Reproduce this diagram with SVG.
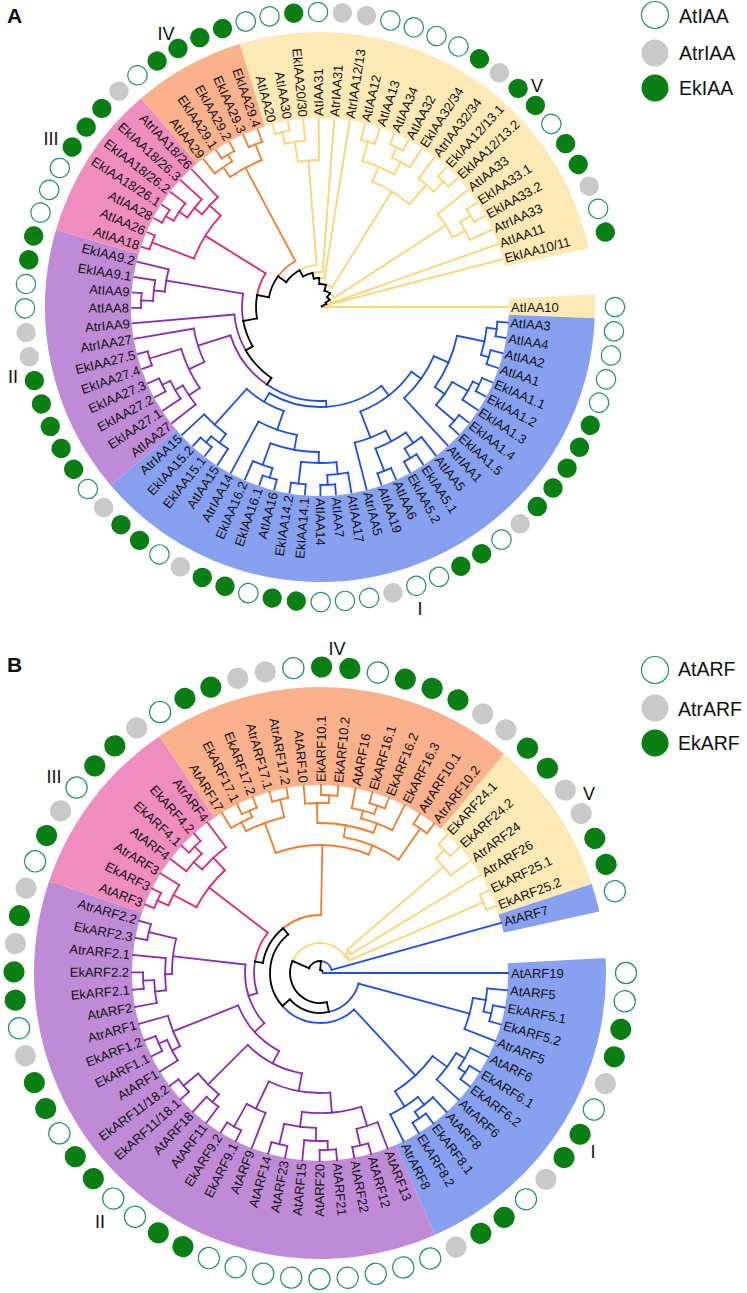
<svg xmlns="http://www.w3.org/2000/svg" width="747" height="1293" viewBox="0 0 747 1293">
<style>
text{font-family:"Liberation Sans",Arial,sans-serif;fill:#111}
.lv text{font-size:13px;dominant-baseline:central}
.f{text-anchor:end}
.w{fill:#fff;stroke:#1f9068;stroke-width:1.2}
.g{fill:#c9c9c9}
.k{fill:#0a7f14}
.sa circle{fill:none;stroke-width:86}
.sb circle{fill:none;stroke-width:98}
.br{fill:none;stroke-width:1.8;stroke-linecap:square}
.bk{stroke:#000}
.yl{stroke:#fdd56e}
.bl{stroke:#1d4fe6}
.pu{stroke:#8b2bb5}
.pk{stroke:#e0287c}
.or{stroke:#f77b2a}
.rn{font-size:18px;text-anchor:middle}
.lg{font-size:19.5px;dominant-baseline:central}
.pl{font-size:21px;font-weight:bold}
</style>
<rect width="747" height="1293" fill="#fff"/>
<text class="pl" x="7" y="23">A</text>
<text class="pl" x="7" y="672">B</text>
<g id="legendA">
<circle class="w" cx="655" cy="15" r="13.5"/><text class="lg" x="679" y="16">AtIAA</text>
<circle class="g" cx="655" cy="53" r="13.5"/><text class="lg" x="679" y="53">AtrIAA</text>
<circle class="k" cx="655" cy="88" r="13.5"/><text class="lg" x="679" y="88">EkIAA</text>
</g>
<g id="legendB">
<circle class="w" cx="655" cy="670" r="13.5"/><text class="lg" x="678" y="669">AtARF</text>
<circle class="g" cx="655" cy="708" r="13.5"/><text class="lg" x="678" y="709">AtrARF</text>
<circle class="k" cx="655" cy="743" r="13.5"/><text class="lg" x="678" y="743">EkARF</text>
</g>
<g id="groupLabels">
<text class="rn" x="166" y="40">IV</text><text class="rn" x="51" y="145">III</text><text class="rn" x="13" y="383">II</text><text class="rn" x="420" y="615">I</text><text class="rn" x="537" y="92">V</text>
<text class="rn" x="337" y="655">IV</text><text class="rn" x="54" y="783">III</text><text class="rn" x="100" y="1228">II</text><text class="rn" x="593" y="1158">I</text><text class="rn" x="589" y="800">V</text>
</g>
<g id="treeA" transform="translate(320,307)">
<g id="sectorsA" class="sa">
<circle r="232" pathLength="360" stroke="#fde9b5" stroke-dasharray="94.65 360" transform="rotate(253.05)"/>
<circle r="232" pathLength="360" stroke="#fde9b5" stroke-dasharray="4.97 360" transform="rotate(357.4)"/>
<circle r="232" pathLength="360" stroke="#87a1f0" stroke-dasharray="137.17 360" transform="rotate(2.37)"/>
<circle r="232" pathLength="360" stroke="#bf8bd6" stroke-dasharray="56.76 360" transform="rotate(139.53)"/>
<circle r="232" pathLength="360" stroke="#f08dbf" stroke-dasharray="33.11 360" transform="rotate(196.29)"/>
<circle r="232" pathLength="360" stroke="#fbb18b" stroke-dasharray="23.65 360" transform="rotate(229.4)"/>
</g>
<g id="connectorsA">
<g class="br yl">
<circle r="2" pathLength="360" stroke-dasharray="12.85 360" transform="rotate(347.15)"/>
<line x1="2" x2="188"/>
<circle r="7" pathLength="360" stroke-dasharray="10.99 360" transform="rotate(334.3)"/>
<line x1="7" x2="188" transform="rotate(345.29)"/>
<circle r="12" pathLength="360" stroke-dasharray="17.26 360" transform="rotate(323.3)"/>
<line x1="12" x2="188" transform="rotate(340.56)"/>
<circle r="17" pathLength="360" stroke-dasharray="20.93 360" transform="rotate(306.03)"/>
<line x1="17" x2="150" transform="rotate(326.96)"/>
<circle r="23" pathLength="360" stroke-dasharray="16.74 360" transform="rotate(285.09)"/>
<line x1="23" x2="136" transform="rotate(301.83)"/>
<circle r="29" pathLength="360" stroke-dasharray="10.72 360" transform="rotate(268.35)"/>
<line x1="29" x2="188" transform="rotate(279.07)"/>
<circle r="35" pathLength="360" stroke-dasharray="16.72 360" transform="rotate(257.62)"/>
<line x1="35" x2="188" transform="rotate(274.34)"/>
<circle r="42" pathLength="360" stroke-dasharray="24.58 360" transform="rotate(240.89)"/>
<line x1="42" x2="147" transform="rotate(265.47)"/>
<circle r="179" pathLength="360" stroke-dasharray="4.73 360" transform="rotate(255.42)"/>
<line x1="179" x2="188" transform="rotate(255.42)"/><line x1="179" x2="188" transform="rotate(260.15)"/>
<circle r="167" pathLength="360" stroke-dasharray="7.09 360" transform="rotate(257.79)"/>
<line x1="167" x2="179" transform="rotate(257.79)"/><line x1="167" x2="188" transform="rotate(264.88)"/>
<circle r="147" pathLength="360" stroke-dasharray="8.28 360" transform="rotate(261.33)"/>
<line x1="147" x2="167" transform="rotate(261.33)"/><line x1="147" x2="188" transform="rotate(269.61)"/>
<circle r="172" pathLength="360" stroke-dasharray="4.73 360" transform="rotate(283.8)"/>
<line x1="172" x2="188" transform="rotate(283.8)"/><line x1="172" x2="188" transform="rotate(288.53)"/>
<circle r="177" pathLength="360" stroke-dasharray="4.73 360" transform="rotate(293.26)"/>
<line x1="177" x2="188" transform="rotate(293.26)"/><line x1="177" x2="188" transform="rotate(297.99)"/>
<circle r="166" pathLength="360" stroke-dasharray="7.09 360" transform="rotate(295.63)"/>
<line x1="166" x2="177" transform="rotate(295.63)"/><line x1="166" x2="188" transform="rotate(302.72)"/>
<circle r="152" pathLength="360" stroke-dasharray="13 360" transform="rotate(286.17)"/>
<line x1="152" x2="172" transform="rotate(286.17)"/><line x1="152" x2="166" transform="rotate(299.17)"/>
<circle r="176" pathLength="360" stroke-dasharray="4.73 360" transform="rotate(312.18)"/>
<line x1="176" x2="188" transform="rotate(312.18)"/><line x1="176" x2="188" transform="rotate(316.91)"/>
<circle r="162" pathLength="360" stroke-dasharray="7.1 360" transform="rotate(307.45)"/>
<line x1="162" x2="188" transform="rotate(307.45)"/><line x1="162" x2="176" transform="rotate(314.55)"/>
<circle r="136" pathLength="360" stroke-dasharray="18.33 360" transform="rotate(292.67)"/>
<line x1="136" x2="152" transform="rotate(292.67)"/><line x1="136" x2="162" transform="rotate(311)"/>
<circle r="176" pathLength="360" stroke-dasharray="4.73 360" transform="rotate(326.37)"/>
<line x1="176" x2="188" transform="rotate(326.37)"/><line x1="176" x2="188" transform="rotate(331.1)"/>
<circle r="164" pathLength="360" stroke-dasharray="7.09 360" transform="rotate(328.74)"/>
<line x1="164" x2="176" transform="rotate(328.74)"/><line x1="164" x2="188" transform="rotate(335.83)"/>
<circle r="150" pathLength="360" stroke-dasharray="10.64 360" transform="rotate(321.64)"/>
<line x1="150" x2="188" transform="rotate(321.64)"/><line x1="150" x2="164" transform="rotate(332.28)"/>
</g>
<g class="br or">
<circle r="52" pathLength="360" stroke-dasharray="25.52 360" transform="rotate(216.3)"/>
<line x1="52" x2="158" transform="rotate(241.82)"/>
<circle r="178" pathLength="360" stroke-dasharray="4.73 360" transform="rotate(236.5)"/>
<line x1="178" x2="188" transform="rotate(236.5)"/><line x1="178" x2="188" transform="rotate(241.23)"/>
<circle r="170" pathLength="360" stroke-dasharray="7.1 360" transform="rotate(231.77)"/>
<line x1="170" x2="188" transform="rotate(231.77)"/><line x1="170" x2="178" transform="rotate(238.87)"/>
<circle r="175" pathLength="360" stroke-dasharray="4.73 360" transform="rotate(245.96)"/>
<line x1="175" x2="188" transform="rotate(245.96)"/><line x1="175" x2="188" transform="rotate(250.69)"/>
<circle r="158" pathLength="360" stroke-dasharray="13.01 360" transform="rotate(235.32)"/>
<line x1="158" x2="170" transform="rotate(235.32)"/><line x1="158" x2="175" transform="rotate(248.33)"/>
</g>
<g class="br pk">
<circle r="64" pathLength="360" stroke-dasharray="21.02 360" transform="rotate(190.78)"/>
<line x1="64" x2="135" transform="rotate(211.8)"/>
<circle r="180" pathLength="360" stroke-dasharray="4.73 360" transform="rotate(198.66)"/>
<line x1="180" x2="188" transform="rotate(198.66)"/><line x1="180" x2="188" transform="rotate(203.39)"/>
<circle r="179" pathLength="360" stroke-dasharray="4.73 360" transform="rotate(208.12)"/>
<line x1="179" x2="188" transform="rotate(208.12)"/><line x1="179" x2="188" transform="rotate(212.85)"/>
<circle r="170" pathLength="360" stroke-dasharray="7.09 360" transform="rotate(210.49)"/>
<line x1="170" x2="179" transform="rotate(210.49)"/><line x1="170" x2="188" transform="rotate(217.58)"/>
<circle r="160" pathLength="360" stroke-dasharray="8.28 360" transform="rotate(214.03)"/>
<line x1="160" x2="170" transform="rotate(214.03)"/><line x1="160" x2="188" transform="rotate(222.31)"/>
<circle r="150" pathLength="360" stroke-dasharray="8.87 360" transform="rotate(218.17)"/>
<line x1="150" x2="160" transform="rotate(218.17)"/><line x1="150" x2="188" transform="rotate(227.04)"/>
<circle r="135" pathLength="360" stroke-dasharray="21.57 360" transform="rotate(201.03)"/>
<line x1="135" x2="180" transform="rotate(201.03)"/><line x1="135" x2="150" transform="rotate(222.6)"/>
</g>
<g class="br pu">
<circle r="78" pathLength="360" stroke-dasharray="20.05 360" transform="rotate(169.75)"/>
<line x1="78" x2="156" transform="rotate(189.8)"/>
<circle r="86" pathLength="360" stroke-dasharray="25.31 360" transform="rotate(149.7)"/>
<line x1="86" x2="188" transform="rotate(175.01)"/>
<circle r="94" pathLength="360" stroke-dasharray="38.06 360" transform="rotate(124.38)"/>
<line x1="94" x2="128" transform="rotate(162.44)"/>
<circle r="179" pathLength="360" stroke-dasharray="4.73 360" transform="rotate(179.74)"/>
<line x1="179" x2="188" transform="rotate(179.74)"/><line x1="179" x2="188" transform="rotate(184.47)"/>
<circle r="167" pathLength="360" stroke-dasharray="7.1 360" transform="rotate(182.1)"/>
<line x1="167" x2="179" transform="rotate(182.1)"/><line x1="167" x2="188" transform="rotate(189.2)"/>
<circle r="156" pathLength="360" stroke-dasharray="8.28 360" transform="rotate(185.65)"/>
<line x1="156" x2="167" transform="rotate(185.65)"/><line x1="156" x2="188" transform="rotate(193.93)"/>
<circle r="178" pathLength="360" stroke-dasharray="4.73 360" transform="rotate(160.82)"/>
<line x1="178" x2="188" transform="rotate(160.82)"/><line x1="178" x2="188" transform="rotate(165.55)"/>
<circle r="176" pathLength="360" stroke-dasharray="4.73 360" transform="rotate(151.36)"/>
<line x1="176" x2="188" transform="rotate(151.36)"/><line x1="176" x2="188" transform="rotate(156.09)"/>
<circle r="167" pathLength="360" stroke-dasharray="7.1 360" transform="rotate(146.63)"/>
<line x1="167" x2="188" transform="rotate(146.63)"/><line x1="167" x2="176" transform="rotate(153.73)"/>
<circle r="158" pathLength="360" stroke-dasharray="8.28 360" transform="rotate(141.9)"/>
<line x1="158" x2="188" transform="rotate(141.9)"/><line x1="158" x2="167" transform="rotate(150.18)"/>
<circle r="145" pathLength="360" stroke-dasharray="17.15 360" transform="rotate(146.04)"/>
<line x1="145" x2="158" transform="rotate(146.04)"/><line x1="145" x2="178" transform="rotate(163.19)"/>
<circle r="128" pathLength="360" stroke-dasharray="15.68 360" transform="rotate(154.6)"/>
<line x1="128" x2="145" transform="rotate(154.6)"/><line x1="128" x2="188" transform="rotate(170.28)"/>
</g>
<g class="br bl">
<circle r="94" pathLength="360" stroke-dasharray="38.06 360" transform="rotate(86.32)"/>
<line x1="94" x2="100" transform="rotate(86.32)"/>
<circle r="178" pathLength="360" stroke-dasharray="4.73 360" transform="rotate(4.73)"/>
<line x1="178" x2="188" transform="rotate(4.73)"/><line x1="178" x2="188" transform="rotate(9.46)"/>
<circle r="176" pathLength="360" stroke-dasharray="4.73 360" transform="rotate(14.19)"/>
<line x1="176" x2="188" transform="rotate(14.19)"/><line x1="176" x2="188" transform="rotate(18.92)"/>
<circle r="168" pathLength="360" stroke-dasharray="9.46 360" transform="rotate(7.1)"/>
<line x1="168" x2="178" transform="rotate(7.1)"/><line x1="168" x2="176" transform="rotate(16.56)"/>
<circle r="177" pathLength="360" stroke-dasharray="4.73 360" transform="rotate(23.65)"/>
<line x1="177" x2="188" transform="rotate(23.65)"/><line x1="177" x2="188" transform="rotate(28.38)"/>
<circle r="170" pathLength="360" stroke-dasharray="7.09 360" transform="rotate(26.02)"/>
<line x1="170" x2="177" transform="rotate(26.02)"/><line x1="170" x2="188" transform="rotate(33.11)"/>
<circle r="176" pathLength="360" stroke-dasharray="4.73 360" transform="rotate(37.84)"/>
<line x1="176" x2="188" transform="rotate(37.84)"/><line x1="176" x2="188" transform="rotate(42.57)"/>
<circle r="152" pathLength="360" stroke-dasharray="10.65 360" transform="rotate(29.56)"/>
<line x1="152" x2="170" transform="rotate(29.56)"/><line x1="152" x2="176" transform="rotate(40.21)"/>
<circle r="140" pathLength="360" stroke-dasharray="23.05 360" transform="rotate(11.83)"/>
<line x1="140" x2="168" transform="rotate(11.83)"/><line x1="140" x2="152" transform="rotate(34.88)"/>
<circle r="124" pathLength="360" stroke-dasharray="23.94 360" transform="rotate(23.36)"/>
<line x1="124" x2="140" transform="rotate(23.36)"/><line x1="124" x2="188" transform="rotate(47.3)"/>
<circle r="176" pathLength="360" stroke-dasharray="4.73 360" transform="rotate(56.76)"/>
<line x1="176" x2="188" transform="rotate(56.76)"/><line x1="176" x2="188" transform="rotate(61.49)"/>
<circle r="165" pathLength="360" stroke-dasharray="7.1 360" transform="rotate(52.03)"/>
<line x1="165" x2="188" transform="rotate(52.03)"/><line x1="165" x2="176" transform="rotate(59.13)"/>
<circle r="176" pathLength="360" stroke-dasharray="4.73 360" transform="rotate(66.22)"/>
<line x1="176" x2="188" transform="rotate(66.22)"/><line x1="176" x2="188" transform="rotate(70.95)"/>
<circle r="152" pathLength="360" stroke-dasharray="13.01 360" transform="rotate(55.58)"/>
<line x1="152" x2="165" transform="rotate(55.58)"/><line x1="152" x2="176" transform="rotate(68.59)"/>
<circle r="140" pathLength="360" stroke-dasharray="13.6 360" transform="rotate(62.08)"/>
<line x1="140" x2="152" transform="rotate(62.08)"/><line x1="140" x2="188" transform="rotate(75.68)"/>
<circle r="112" pathLength="360" stroke-dasharray="33.55 360" transform="rotate(35.33)"/>
<line x1="112" x2="124" transform="rotate(35.33)"/><line x1="112" x2="140" transform="rotate(68.88)"/>
<circle r="178" pathLength="360" stroke-dasharray="4.73 360" transform="rotate(85.14)"/>
<line x1="178" x2="188" transform="rotate(85.14)"/><line x1="178" x2="188" transform="rotate(89.87)"/>
<circle r="168" pathLength="360" stroke-dasharray="7.1 360" transform="rotate(80.41)"/>
<line x1="168" x2="188" transform="rotate(80.41)"/><line x1="168" x2="178" transform="rotate(87.51)"/>
<circle r="178" pathLength="360" stroke-dasharray="4.73 360" transform="rotate(94.6)"/>
<line x1="178" x2="188" transform="rotate(94.6)"/><line x1="178" x2="188" transform="rotate(99.33)"/>
<circle r="156" pathLength="360" stroke-dasharray="13.01 360" transform="rotate(83.96)"/>
<line x1="156" x2="168" transform="rotate(83.96)"/><line x1="156" x2="178" transform="rotate(96.97)"/>
<circle r="178" pathLength="360" stroke-dasharray="4.73 360" transform="rotate(104.06)"/>
<line x1="178" x2="188" transform="rotate(104.06)"/><line x1="178" x2="188" transform="rotate(108.79)"/>
<circle r="168" pathLength="360" stroke-dasharray="7.09 360" transform="rotate(106.43)"/>
<line x1="168" x2="178" transform="rotate(106.43)"/><line x1="168" x2="188" transform="rotate(113.52)"/>
<circle r="145" pathLength="360" stroke-dasharray="19.51 360" transform="rotate(90.46)"/>
<line x1="145" x2="156" transform="rotate(90.46)"/><line x1="145" x2="168" transform="rotate(109.97)"/>
<circle r="130" pathLength="360" stroke-dasharray="18.03 360" transform="rotate(100.22)"/>
<line x1="130" x2="145" transform="rotate(100.22)"/><line x1="130" x2="188" transform="rotate(118.25)"/>
<circle r="177" pathLength="360" stroke-dasharray="4.73 360" transform="rotate(127.71)"/>
<line x1="177" x2="188" transform="rotate(127.71)"/><line x1="177" x2="188" transform="rotate(132.44)"/>
<circle r="169" pathLength="360" stroke-dasharray="7.1 360" transform="rotate(122.98)"/>
<line x1="169" x2="188" transform="rotate(122.98)"/><line x1="169" x2="177" transform="rotate(130.08)"/>
<circle r="158" pathLength="360" stroke-dasharray="10.64 360" transform="rotate(126.53)"/>
<line x1="158" x2="169" transform="rotate(126.53)"/><line x1="158" x2="188" transform="rotate(137.17)"/>
<circle r="110" pathLength="360" stroke-dasharray="22.62 360" transform="rotate(109.23)"/>
<line x1="110" x2="130" transform="rotate(109.23)"/><line x1="110" x2="158" transform="rotate(131.85)"/>
<circle r="100" pathLength="360" stroke-dasharray="68.44 360" transform="rotate(52.1)"/>
<line x1="100" x2="112" transform="rotate(52.1)"/><line x1="100" x2="110" transform="rotate(120.54)"/>
</g>
<g class="br bk">
<circle r="2" pathLength="360" stroke-dasharray="12.85 360" transform="rotate(334.3)"/>
<circle r="7" pathLength="360" stroke-dasharray="11 360" transform="rotate(323.3)"/>
<circle r="12" pathLength="360" stroke-dasharray="17.27 360" transform="rotate(306.03)"/>
<circle r="17" pathLength="360" stroke-dasharray="20.94 360" transform="rotate(285.09)"/>
<circle r="23" pathLength="360" stroke-dasharray="16.74 360" transform="rotate(268.35)"/>
<circle r="29" pathLength="360" stroke-dasharray="10.73 360" transform="rotate(257.62)"/>
<circle r="35" pathLength="360" stroke-dasharray="16.73 360" transform="rotate(240.89)"/>
<circle r="42" pathLength="360" stroke-dasharray="24.59 360" transform="rotate(216.3)"/>
<circle r="52" pathLength="360" stroke-dasharray="25.52 360" transform="rotate(190.78)"/>
<circle r="64" pathLength="360" stroke-dasharray="21.03 360" transform="rotate(169.75)"/>
<circle r="78" pathLength="360" stroke-dasharray="20.05 360" transform="rotate(149.7)"/>
<circle r="86" pathLength="360" stroke-dasharray="25.32 360" transform="rotate(124.38)"/>
<line x1="2" x2="7" transform="rotate(334.3)"/>
<line x1="7" x2="12" transform="rotate(323.3)"/>
<line x1="12" x2="17" transform="rotate(306.03)"/>
<line x1="17" x2="23" transform="rotate(285.09)"/>
<line x1="23" x2="29" transform="rotate(268.35)"/>
<line x1="29" x2="35" transform="rotate(257.62)"/>
<line x1="35" x2="42" transform="rotate(240.89)"/>
<line x1="42" x2="52" transform="rotate(216.3)"/>
<line x1="52" x2="64" transform="rotate(190.78)"/>
<line x1="64" x2="78" transform="rotate(169.75)"/>
<line x1="78" x2="86" transform="rotate(149.7)"/>
<line x1="86" x2="94" transform="rotate(124.38)"/>
</g>
</g>
<g id="leavesA" class="lv">
<g id="a0"><text x="191">AtIAA10</text><circle class="w" cx="295" r="9.7"/></g>
<g id="a1" transform="rotate(4.73)"><text x="191">AtIAA3</text><circle class="w" cx="295" r="9.7"/></g>
<g id="a2" transform="rotate(9.46)"><text x="191">AtIAA4</text><circle class="w" cx="295" r="9.7"/></g>
<g id="a3" transform="rotate(14.19)"><text x="191">AtIAA2</text><circle class="w" cx="295" r="9.7"/></g>
<g id="a4" transform="rotate(18.92)"><text x="191">AtIAA1</text><circle class="w" cx="295" r="9.7"/></g>
<g id="a5" transform="rotate(23.65)"><text x="191">EkIAA1.1</text><circle class="k" cx="295" r="9.7"/></g>
<g id="a6" transform="rotate(28.38)"><text x="191">EkIAA1.2</text><circle class="k" cx="295" r="9.7"/></g>
<g id="a7" transform="rotate(33.11)"><text x="191">EkIAA1.3</text><circle class="k" cx="295" r="9.7"/></g>
<g id="a8" transform="rotate(37.84)"><text x="191">EkIAA1.4</text><circle class="k" cx="295" r="9.7"/></g>
<g id="a9" transform="rotate(42.57)"><text x="191">EkIAA1.5</text><circle class="k" cx="295" r="9.7"/></g>
<g id="a10" transform="rotate(47.3)"><text x="191">AtrIAA1</text><circle class="g" cx="295" r="9.7"/></g>
<g id="a11" transform="rotate(52.03)"><text x="191">AtIAA5</text><circle class="w" cx="295" r="9.7"/></g>
<g id="a12" transform="rotate(56.76)"><text x="191">EkIAA5.1</text><circle class="k" cx="295" r="9.7"/></g>
<g id="a13" transform="rotate(61.49)"><text x="191">EkIAA5.2</text><circle class="k" cx="295" r="9.7"/></g>
<g id="a14" transform="rotate(66.22)"><text x="191">AtIAA6</text><circle class="w" cx="295" r="9.7"/></g>
<g id="a15" transform="rotate(70.95)"><text x="191">AtIAA19</text><circle class="w" cx="295" r="9.7"/></g>
<g id="a16" transform="rotate(75.68)"><text x="191">AtrIAA5</text><circle class="g" cx="295" r="9.7"/></g>
<g id="a17" transform="rotate(80.41)"><text x="191">AtIAA17</text><circle class="w" cx="295" r="9.7"/></g>
<g id="a18" transform="rotate(85.14)"><text x="191">AtIAA7</text><circle class="w" cx="295" r="9.7"/></g>
<g id="a19" transform="rotate(89.87)"><text x="191">AtIAA14</text><circle class="w" cx="295" r="9.7"/></g>
<g id="a20" transform="rotate(-85.4)"><text class="f" x="-191">EkIAA14.1</text><circle class="k" cx="-295" r="9.7"/></g>
<g id="a21" transform="rotate(-80.67)"><text class="f" x="-191">EkIAA14.2</text><circle class="k" cx="-295" r="9.7"/></g>
<g id="a22" transform="rotate(-75.94)"><text class="f" x="-191">AtIAA16</text><circle class="w" cx="-295" r="9.7"/></g>
<g id="a23" transform="rotate(-71.21)"><text class="f" x="-191">EkIAA16.1</text><circle class="k" cx="-295" r="9.7"/></g>
<g id="a24" transform="rotate(-66.48)"><text class="f" x="-191">EkIAA16.2</text><circle class="k" cx="-295" r="9.7"/></g>
<g id="a25" transform="rotate(-61.75)"><text class="f" x="-191">AtrIAA14</text><circle class="g" cx="-295" r="9.7"/></g>
<g id="a26" transform="rotate(-57.02)"><text class="f" x="-191">AtIAA15</text><circle class="w" cx="-295" r="9.7"/></g>
<g id="a27" transform="rotate(-52.29)"><text class="f" x="-191">EkIAA15.1</text><circle class="k" cx="-295" r="9.7"/></g>
<g id="a28" transform="rotate(-47.56)"><text class="f" x="-191">EkIAA15.2</text><circle class="k" cx="-295" r="9.7"/></g>
<g id="a29" transform="rotate(-42.83)"><text class="f" x="-191">AtrIAA15</text><circle class="g" cx="-295" r="9.7"/></g>
<g id="a30" transform="rotate(-38.1)"><text class="f" x="-191">AtIAA27</text><circle class="w" cx="-295" r="9.7"/></g>
<g id="a31" transform="rotate(-33.37)"><text class="f" x="-191">EkIAA27.1</text><circle class="k" cx="-295" r="9.7"/></g>
<g id="a32" transform="rotate(-28.64)"><text class="f" x="-191">EkIAA27.2</text><circle class="k" cx="-295" r="9.7"/></g>
<g id="a33" transform="rotate(-23.91)"><text class="f" x="-191">EkIAA27.3</text><circle class="k" cx="-295" r="9.7"/></g>
<g id="a34" transform="rotate(-19.18)"><text class="f" x="-191">EkIAA27.4</text><circle class="k" cx="-295" r="9.7"/></g>
<g id="a35" transform="rotate(-14.45)"><text class="f" x="-191">EkIAA27.5</text><circle class="k" cx="-295" r="9.7"/></g>
<g id="a36" transform="rotate(-9.72)"><text class="f" x="-191">AtrIAA27</text><circle class="g" cx="-295" r="9.7"/></g>
<g id="a37" transform="rotate(-4.99)"><text class="f" x="-191">AtrIAA9</text><circle class="g" cx="-295" r="9.7"/></g>
<g id="a38" transform="rotate(-0.26)"><text class="f" x="-191">AtIAA8</text><circle class="w" cx="-295" r="9.7"/></g>
<g id="a39" transform="rotate(4.47)"><text class="f" x="-191">AtIAA9</text><circle class="w" cx="-295" r="9.7"/></g>
<g id="a40" transform="rotate(9.2)"><text class="f" x="-191">EkIAA9.1</text><circle class="k" cx="-295" r="9.7"/></g>
<g id="a41" transform="rotate(13.93)"><text class="f" x="-191">EkIAA9.2</text><circle class="k" cx="-295" r="9.7"/></g>
<g id="a42" transform="rotate(18.66)"><text class="f" x="-191">AtIAA18</text><circle class="w" cx="-295" r="9.7"/></g>
<g id="a43" transform="rotate(23.39)"><text class="f" x="-191">AtIAA26</text><circle class="w" cx="-295" r="9.7"/></g>
<g id="a44" transform="rotate(28.12)"><text class="f" x="-191">AtIAA28</text><circle class="w" cx="-295" r="9.7"/></g>
<g id="a45" transform="rotate(32.85)"><text class="f" x="-191">EkIAA18/26.1</text><circle class="k" cx="-295" r="9.7"/></g>
<g id="a46" transform="rotate(37.58)"><text class="f" x="-191">EkIAA18/26.2</text><circle class="k" cx="-295" r="9.7"/></g>
<g id="a47" transform="rotate(42.31)"><text class="f" x="-191">EkIAA18/26.3</text><circle class="k" cx="-295" r="9.7"/></g>
<g id="a48" transform="rotate(47.04)"><text class="f" x="-191">AtrIAA18/26</text><circle class="g" cx="-295" r="9.7"/></g>
<g id="a49" transform="rotate(51.77)"><text class="f" x="-191">AtIAA29</text><circle class="w" cx="-295" r="9.7"/></g>
<g id="a50" transform="rotate(56.5)"><text class="f" x="-191">EkIAA29.1</text><circle class="k" cx="-295" r="9.7"/></g>
<g id="a51" transform="rotate(61.23)"><text class="f" x="-191">EkIAA29.2</text><circle class="k" cx="-295" r="9.7"/></g>
<g id="a52" transform="rotate(65.96)"><text class="f" x="-191">EkIAA29.3</text><circle class="k" cx="-295" r="9.7"/></g>
<g id="a53" transform="rotate(70.69)"><text class="f" x="-191">EkIAA29.4</text><circle class="k" cx="-295" r="9.7"/></g>
<g id="a54" transform="rotate(75.42)"><text class="f" x="-191">AtIAA20</text><circle class="w" cx="-295" r="9.7"/></g>
<g id="a55" transform="rotate(80.15)"><text class="f" x="-191">AtIAA30</text><circle class="w" cx="-295" r="9.7"/></g>
<g id="a56" transform="rotate(84.88)"><text class="f" x="-191">EkIAA20/30</text><circle class="k" cx="-295" r="9.7"/></g>
<g id="a57" transform="rotate(269.61)"><text x="191">AtIAA31</text><circle class="w" cx="295" r="9.7"/></g>
<g id="a58" transform="rotate(274.34)"><text x="191">AtrIAA31</text><circle class="g" cx="295" r="9.7"/></g>
<g id="a59" transform="rotate(279.07)"><text x="191">AtrIAA12/13</text><circle class="g" cx="295" r="9.7"/></g>
<g id="a60" transform="rotate(283.8)"><text x="191">AtIAA12</text><circle class="w" cx="295" r="9.7"/></g>
<g id="a61" transform="rotate(288.53)"><text x="191">AtIAA13</text><circle class="w" cx="295" r="9.7"/></g>
<g id="a62" transform="rotate(293.26)"><text x="191">AtIAA34</text><circle class="w" cx="295" r="9.7"/></g>
<g id="a63" transform="rotate(297.99)"><text x="191">AtIAA32</text><circle class="w" cx="295" r="9.7"/></g>
<g id="a64" transform="rotate(302.72)"><text x="191">EkIAA32/34</text><circle class="k" cx="295" r="9.7"/></g>
<g id="a65" transform="rotate(307.45)"><text x="191">AtrIAA32/34</text><circle class="g" cx="295" r="9.7"/></g>
<g id="a66" transform="rotate(312.18)"><text x="191">EkIAA12/13.1</text><circle class="k" cx="295" r="9.7"/></g>
<g id="a67" transform="rotate(316.91)"><text x="191">EkIAA12/13.2</text><circle class="k" cx="295" r="9.7"/></g>
<g id="a68" transform="rotate(321.64)"><text x="191">AtIAA33</text><circle class="w" cx="295" r="9.7"/></g>
<g id="a69" transform="rotate(326.37)"><text x="191">EkIAA33.1</text><circle class="k" cx="295" r="9.7"/></g>
<g id="a70" transform="rotate(331.1)"><text x="191">EkIAA33.2</text><circle class="k" cx="295" r="9.7"/></g>
<g id="a71" transform="rotate(335.83)"><text x="191">AtrIAA33</text><circle class="g" cx="295" r="9.7"/></g>
<g id="a72" transform="rotate(340.56)"><text x="191">AtIAA11</text><circle class="w" cx="295" r="9.7"/></g>
<g id="a73" transform="rotate(345.29)"><text x="191">EkIAA10/11</text><circle class="k" cx="295" r="9.7"/></g>
</g>
</g>
<g id="treeB" transform="translate(320,973)">
<g id="sectorsB" class="sb">
<circle r="237" pathLength="360" stroke="#87a1f0" stroke-dasharray="69.25 360" transform="rotate(357)"/>
<circle r="237" pathLength="360" stroke="#bf8bd6" stroke-dasharray="132.5 360" transform="rotate(66.25)"/>
<circle r="237" pathLength="360" stroke="#f08dbf" stroke-dasharray="37.1 360" transform="rotate(198.75)"/>
<circle r="237" pathLength="360" stroke="#fbb18b" stroke-dasharray="74.2 360" transform="rotate(235.85)"/>
<circle r="237" pathLength="360" stroke="#fde9b5" stroke-dasharray="31.8 360" transform="rotate(310.05)"/>
<circle r="237" pathLength="360" stroke="#87a1f0" stroke-dasharray="5.75 360" transform="rotate(341.85)"/>
</g>
<g id="connectorsB">
<g class="br yl">
<circle r="30" pathLength="360" stroke-dasharray="126.63 360" transform="rotate(203.63)"/>
<line x1="30" x2="32" transform="rotate(330.26)"/>
<circle r="175" pathLength="360" stroke-dasharray="5.3 360" transform="rotate(312.7)"/>
<line x1="175" x2="188" transform="rotate(312.7)"/><line x1="175" x2="188" transform="rotate(318)"/>
<circle r="163" pathLength="360" stroke-dasharray="7.95 360" transform="rotate(315.35)"/>
<line x1="163" x2="175" transform="rotate(315.35)"/><line x1="163" x2="188" transform="rotate(323.3)"/>
<circle r="178" pathLength="360" stroke-dasharray="5.3 360" transform="rotate(333.9)"/>
<line x1="178" x2="188" transform="rotate(333.9)"/><line x1="178" x2="188" transform="rotate(339.2)"/>
<circle r="36" pathLength="360" stroke-dasharray="9.27 360" transform="rotate(319.33)"/>
<line x1="36" x2="163" transform="rotate(319.33)"/><line x1="36" x2="188" transform="rotate(328.6)"/>
<circle r="32" pathLength="360" stroke-dasharray="12.58 360" transform="rotate(323.97)"/>
<line x1="32" x2="36" transform="rotate(323.97)"/><line x1="32" x2="178" transform="rotate(336.55)"/>
</g>
<g class="br bl">
<circle r="3" pathLength="360" stroke-dasharray="43 360" transform="rotate(317)"/>
<line x1="3" x2="188"/>
<circle r="12" pathLength="360" stroke-dasharray="70.43 360" transform="rotate(274.07)"/>
<line x1="12" x2="188" transform="rotate(344.5)"/>
<circle r="40" pathLength="360" stroke-dasharray="61.76 360" transform="rotate(15.24)"/>
<line x1="40" x2="155" transform="rotate(15.24)"/>
<circle r="50" pathLength="360" stroke-dasharray="91.73 360" transform="rotate(47.04)"/>
<line x1="50" x2="140" transform="rotate(47.04)"/>
<circle r="176" pathLength="360" stroke-dasharray="5.3 360" transform="rotate(10.6)"/>
<line x1="176" x2="188" transform="rotate(10.6)"/><line x1="176" x2="188" transform="rotate(15.9)"/>
<circle r="168" pathLength="360" stroke-dasharray="7.95 360" transform="rotate(5.3)"/>
<line x1="168" x2="188" transform="rotate(5.3)"/><line x1="168" x2="176" transform="rotate(13.25)"/>
<circle r="155" pathLength="360" stroke-dasharray="11.92 360" transform="rotate(9.28)"/>
<line x1="155" x2="168" transform="rotate(9.28)"/><line x1="155" x2="188" transform="rotate(21.2)"/>
<circle r="176" pathLength="360" stroke-dasharray="5.3 360" transform="rotate(31.8)"/>
<line x1="176" x2="188" transform="rotate(31.8)"/><line x1="176" x2="188" transform="rotate(37.1)"/>
<circle r="168" pathLength="360" stroke-dasharray="7.95 360" transform="rotate(26.5)"/>
<line x1="168" x2="188" transform="rotate(26.5)"/><line x1="168" x2="176" transform="rotate(34.45)"/>
<circle r="158" pathLength="360" stroke-dasharray="11.92 360" transform="rotate(30.48)"/>
<line x1="158" x2="168" transform="rotate(30.48)"/><line x1="158" x2="188" transform="rotate(42.4)"/>
<circle r="176" pathLength="360" stroke-dasharray="5.3 360" transform="rotate(53)"/>
<line x1="176" x2="188" transform="rotate(53)"/><line x1="176" x2="188" transform="rotate(58.3)"/>
<circle r="168" pathLength="360" stroke-dasharray="7.95 360" transform="rotate(47.7)"/>
<line x1="168" x2="188" transform="rotate(47.7)"/><line x1="168" x2="176" transform="rotate(55.65)"/>
<circle r="158" pathLength="360" stroke-dasharray="11.92 360" transform="rotate(51.68)"/>
<line x1="158" x2="168" transform="rotate(51.68)"/><line x1="158" x2="188" transform="rotate(63.6)"/>
<circle r="140" pathLength="360" stroke-dasharray="21.2 360" transform="rotate(36.44)"/>
<line x1="140" x2="158" transform="rotate(36.44)"/><line x1="140" x2="158" transform="rotate(57.64)"/>
</g>
<g class="br or">
<circle r="58" pathLength="360" stroke-dasharray="40.55 360" transform="rotate(230.5)"/>
<line x1="58" x2="128" transform="rotate(271.05)"/>
<circle r="177" pathLength="360" stroke-dasharray="5.3 360" transform="rotate(243.8)"/>
<line x1="177" x2="188" transform="rotate(243.8)"/><line x1="177" x2="188" transform="rotate(249.1)"/>
<circle r="170" pathLength="360" stroke-dasharray="7.95 360" transform="rotate(238.5)"/>
<line x1="170" x2="188" transform="rotate(238.5)"/><line x1="170" x2="177" transform="rotate(246.45)"/>
<circle r="178" pathLength="360" stroke-dasharray="5.3 360" transform="rotate(254.4)"/>
<line x1="178" x2="188" transform="rotate(254.4)"/><line x1="178" x2="188" transform="rotate(259.7)"/>
<circle r="160" pathLength="360" stroke-dasharray="14.57 360" transform="rotate(242.48)"/>
<line x1="160" x2="170" transform="rotate(242.48)"/><line x1="160" x2="178" transform="rotate(257.05)"/>
<circle r="178" pathLength="360" stroke-dasharray="5.3 360" transform="rotate(270.3)"/>
<line x1="178" x2="188" transform="rotate(270.3)"/><line x1="178" x2="188" transform="rotate(275.6)"/>
<circle r="170" pathLength="360" stroke-dasharray="7.95 360" transform="rotate(265)"/>
<line x1="170" x2="188" transform="rotate(265)"/><line x1="170" x2="178" transform="rotate(272.95)"/>
<circle r="177" pathLength="360" stroke-dasharray="5.3 360" transform="rotate(286.2)"/>
<line x1="177" x2="188" transform="rotate(286.2)"/><line x1="177" x2="188" transform="rotate(291.5)"/>
<circle r="168" pathLength="360" stroke-dasharray="7.95 360" transform="rotate(280.9)"/>
<line x1="168" x2="188" transform="rotate(280.9)"/><line x1="168" x2="177" transform="rotate(288.85)"/>
<circle r="160" pathLength="360" stroke-dasharray="11.92 360" transform="rotate(284.88)"/>
<line x1="160" x2="168" transform="rotate(284.88)"/><line x1="160" x2="188" transform="rotate(296.8)"/>
<circle r="150" pathLength="360" stroke-dasharray="21.86 360" transform="rotate(268.98)"/>
<line x1="150" x2="170" transform="rotate(268.98)"/><line x1="150" x2="160" transform="rotate(290.84)"/>
<circle r="176" pathLength="360" stroke-dasharray="5.3 360" transform="rotate(302.1)"/>
<line x1="176" x2="188" transform="rotate(302.1)"/><line x1="176" x2="188" transform="rotate(307.4)"/>
<circle r="138" pathLength="360" stroke-dasharray="24.84 360" transform="rotate(279.91)"/>
<line x1="138" x2="150" transform="rotate(279.91)"/><line x1="138" x2="176" transform="rotate(304.75)"/>
<circle r="128" pathLength="360" stroke-dasharray="42.56 360" transform="rotate(249.77)"/>
<line x1="128" x2="160" transform="rotate(249.77)"/><line x1="128" x2="138" transform="rotate(292.33)"/>
</g>
<g class="br pk">
<circle r="66" pathLength="360" stroke-dasharray="27.69 360" transform="rotate(189.95)"/>
<line x1="66" x2="140" transform="rotate(217.64)"/>
<circle r="178" pathLength="360" stroke-dasharray="5.3 360" transform="rotate(201.4)"/>
<line x1="178" x2="188" transform="rotate(201.4)"/><line x1="178" x2="188" transform="rotate(206.7)"/>
<circle r="166" pathLength="360" stroke-dasharray="7.95 360" transform="rotate(204.05)"/>
<line x1="166" x2="178" transform="rotate(204.05)"/><line x1="166" x2="188" transform="rotate(212)"/>
<circle r="178" pathLength="360" stroke-dasharray="5.3 360" transform="rotate(222.6)"/>
<line x1="178" x2="188" transform="rotate(222.6)"/><line x1="178" x2="188" transform="rotate(227.9)"/>
<circle r="168" pathLength="360" stroke-dasharray="7.95 360" transform="rotate(217.3)"/>
<line x1="168" x2="188" transform="rotate(217.3)"/><line x1="168" x2="178" transform="rotate(225.25)"/>
<circle r="157" pathLength="360" stroke-dasharray="11.92 360" transform="rotate(221.28)"/>
<line x1="157" x2="168" transform="rotate(221.28)"/><line x1="157" x2="188" transform="rotate(233.2)"/>
<circle r="140" pathLength="360" stroke-dasharray="19.21 360" transform="rotate(208.03)"/>
<line x1="140" x2="166" transform="rotate(208.03)"/><line x1="140" x2="157" transform="rotate(227.24)"/>
</g>
<g class="br pu">
<circle r="66" pathLength="360" stroke-dasharray="27.7 360" transform="rotate(162.25)"/>
<line x1="66" x2="75" transform="rotate(162.25)"/>
<circle r="176" pathLength="360" stroke-dasharray="5.3 360" transform="rotate(190.8)"/>
<line x1="176" x2="188" transform="rotate(190.8)"/><line x1="176" x2="188" transform="rotate(196.1)"/>
<circle r="177" pathLength="360" stroke-dasharray="5.3 360" transform="rotate(174.9)"/>
<line x1="177" x2="188" transform="rotate(174.9)"/><line x1="177" x2="188" transform="rotate(180.2)"/>
<circle r="166" pathLength="360" stroke-dasharray="7.95 360" transform="rotate(169.6)"/>
<line x1="166" x2="188" transform="rotate(169.6)"/><line x1="166" x2="177" transform="rotate(177.55)"/>
<circle r="155" pathLength="360" stroke-dasharray="11.92 360" transform="rotate(173.58)"/>
<line x1="155" x2="166" transform="rotate(173.58)"/><line x1="155" x2="188" transform="rotate(185.5)"/>
<circle r="148" pathLength="360" stroke-dasharray="13.91 360" transform="rotate(179.54)"/>
<line x1="148" x2="155" transform="rotate(179.54)"/><line x1="148" x2="176" transform="rotate(193.45)"/>
<circle r="176" pathLength="360" stroke-dasharray="5.3 360" transform="rotate(153.7)"/>
<line x1="176" x2="188" transform="rotate(153.7)"/><line x1="176" x2="188" transform="rotate(159)"/>
<circle r="167" pathLength="360" stroke-dasharray="7.95 360" transform="rotate(148.4)"/>
<line x1="167" x2="188" transform="rotate(148.4)"/><line x1="167" x2="176" transform="rotate(156.35)"/>
<circle r="158" pathLength="360" stroke-dasharray="11.92 360" transform="rotate(152.38)"/>
<line x1="158" x2="167" transform="rotate(152.38)"/><line x1="158" x2="188" transform="rotate(164.3)"/>
<circle r="168" pathLength="360" stroke-dasharray="5.3 360" transform="rotate(127.2)"/>
<line x1="168" x2="188" transform="rotate(127.2)"/><line x1="168" x2="188" transform="rotate(132.5)"/>
<circle r="177" pathLength="360" stroke-dasharray="5.3 360" transform="rotate(137.8)"/>
<line x1="177" x2="188" transform="rotate(137.8)"/><line x1="177" x2="188" transform="rotate(143.1)"/>
<circle r="158" pathLength="360" stroke-dasharray="10.6 360" transform="rotate(129.85)"/>
<line x1="158" x2="168" transform="rotate(129.85)"/><line x1="158" x2="177" transform="rotate(140.45)"/>
<circle r="177" pathLength="360" stroke-dasharray="5.3 360" transform="rotate(74.2)"/>
<line x1="177" x2="188" transform="rotate(74.2)"/><line x1="177" x2="188" transform="rotate(79.5)"/>
<circle r="160" pathLength="360" stroke-dasharray="7.95 360" transform="rotate(68.9)"/>
<line x1="160" x2="188" transform="rotate(68.9)"/><line x1="160" x2="177" transform="rotate(76.85)"/>
<circle r="177" pathLength="360" stroke-dasharray="5.3 360" transform="rotate(84.8)"/>
<line x1="177" x2="188" transform="rotate(84.8)"/><line x1="177" x2="188" transform="rotate(90.1)"/>
<circle r="168" pathLength="360" stroke-dasharray="7.95 360" transform="rotate(87.45)"/>
<line x1="168" x2="177" transform="rotate(87.45)"/><line x1="168" x2="188" transform="rotate(95.4)"/>
<circle r="176" pathLength="360" stroke-dasharray="5.3 360" transform="rotate(100.7)"/>
<line x1="176" x2="188" transform="rotate(100.7)"/><line x1="176" x2="188" transform="rotate(106)"/>
<circle r="155" pathLength="360" stroke-dasharray="11.92 360" transform="rotate(91.43)"/>
<line x1="155" x2="168" transform="rotate(91.43)"/><line x1="155" x2="176" transform="rotate(103.35)"/>
<circle r="140" pathLength="360" stroke-dasharray="24.51 360" transform="rotate(72.88)"/>
<line x1="140" x2="160" transform="rotate(72.88)"/><line x1="140" x2="155" transform="rotate(97.39)"/>
<circle r="176" pathLength="360" stroke-dasharray="5.3 360" transform="rotate(116.6)"/>
<line x1="176" x2="188" transform="rotate(116.6)"/><line x1="176" x2="188" transform="rotate(121.9)"/>
<circle r="150" pathLength="360" stroke-dasharray="7.95 360" transform="rotate(111.3)"/>
<line x1="150" x2="188" transform="rotate(111.3)"/><line x1="150" x2="176" transform="rotate(119.25)"/>
<circle r="120" pathLength="360" stroke-dasharray="30.15 360" transform="rotate(85.13)"/>
<line x1="120" x2="140" transform="rotate(85.13)"/><line x1="120" x2="150" transform="rotate(115.28)"/>
<circle r="102" pathLength="360" stroke-dasharray="34.95 360" transform="rotate(100.2)"/>
<line x1="102" x2="120" transform="rotate(100.2)"/><line x1="102" x2="158" transform="rotate(135.15)"/>
<circle r="88" pathLength="360" stroke-dasharray="40.66 360" transform="rotate(117.68)"/>
<line x1="88" x2="102" transform="rotate(117.68)"/><line x1="88" x2="158" transform="rotate(158.34)"/>
<circle r="75" pathLength="360" stroke-dasharray="48.49 360" transform="rotate(138.01)"/>
<line x1="75" x2="88" transform="rotate(138.01)"/><line x1="75" x2="148" transform="rotate(186.5)"/>
</g>
<g class="br bk">
<circle r="3" pathLength="360" stroke-dasharray="42.93 360" transform="rotate(274.07)"/>
<circle r="12" pathLength="360" stroke-dasharray="70.44 360" transform="rotate(203.63)"/>
<circle r="30" pathLength="360" stroke-dasharray="126.63 360" transform="rotate(77)"/>
<circle r="40" pathLength="360" stroke-dasharray="61.77 360" transform="rotate(77)"/>
<circle r="50" pathLength="360" stroke-dasharray="91.73 360" transform="rotate(138.77)"/>
<circle r="58" pathLength="360" stroke-dasharray="40.55 360" transform="rotate(189.95)"/>
<line x1="3" x2="12" transform="rotate(274.07)"/>
<line x1="12" x2="30" transform="rotate(203.63)"/>
<line x1="30" x2="40" transform="rotate(77)"/>
<line x1="40" x2="50" transform="rotate(138.77)"/>
<line x1="50" x2="58" transform="rotate(230.5)"/>
<line x1="58" x2="66" transform="rotate(189.95)"/>
</g>
</g>
<g id="leavesB" class="lv">
<g id="b0"><text x="191">AtARF19</text><circle class="w" cx="306" r="10.6"/></g>
<g id="b1" transform="rotate(5.3)"><text x="191">AtARF5</text><circle class="w" cx="306" r="10.6"/></g>
<g id="b2" transform="rotate(10.6)"><text x="191">EkARF5.1</text><circle class="k" cx="306" r="10.6"/></g>
<g id="b3" transform="rotate(15.9)"><text x="191">EkARF5.2</text><circle class="k" cx="306" r="10.6"/></g>
<g id="b4" transform="rotate(21.2)"><text x="191">AtrARF5</text><circle class="g" cx="306" r="10.6"/></g>
<g id="b5" transform="rotate(26.5)"><text x="191">AtARF6</text><circle class="w" cx="306" r="10.6"/></g>
<g id="b6" transform="rotate(31.8)"><text x="191">EkARF6.1</text><circle class="k" cx="306" r="10.6"/></g>
<g id="b7" transform="rotate(37.1)"><text x="191">EkARF6.2</text><circle class="k" cx="306" r="10.6"/></g>
<g id="b8" transform="rotate(42.4)"><text x="191">AtrARF6</text><circle class="g" cx="306" r="10.6"/></g>
<g id="b9" transform="rotate(47.7)"><text x="191">AtARF8</text><circle class="w" cx="306" r="10.6"/></g>
<g id="b10" transform="rotate(53)"><text x="191">EkARF8.1</text><circle class="k" cx="306" r="10.6"/></g>
<g id="b11" transform="rotate(58.3)"><text x="191">EkARF8.2</text><circle class="k" cx="306" r="10.6"/></g>
<g id="b12" transform="rotate(63.6)"><text x="191">AtrARF8</text><circle class="g" cx="306" r="10.6"/></g>
<g id="b13" transform="rotate(68.9)"><text x="191">AtARF13</text><circle class="w" cx="306" r="10.6"/></g>
<g id="b14" transform="rotate(74.2)"><text x="191">AtARF12</text><circle class="w" cx="306" r="10.6"/></g>
<g id="b15" transform="rotate(79.5)"><text x="191">AtARF22</text><circle class="w" cx="306" r="10.6"/></g>
<g id="b16" transform="rotate(84.8)"><text x="191">AtARF21</text><circle class="w" cx="306" r="10.6"/></g>
<g id="b17" transform="rotate(-89.9)"><text class="f" x="-191">AtARF20</text><circle class="w" cx="-306" r="10.6"/></g>
<g id="b18" transform="rotate(-84.6)"><text class="f" x="-191">AtARF15</text><circle class="w" cx="-306" r="10.6"/></g>
<g id="b19" transform="rotate(-79.3)"><text class="f" x="-191">AtARF23</text><circle class="w" cx="-306" r="10.6"/></g>
<g id="b20" transform="rotate(-74)"><text class="f" x="-191">AtARF14</text><circle class="w" cx="-306" r="10.6"/></g>
<g id="b21" transform="rotate(-68.7)"><text class="f" x="-191">AtARF9</text><circle class="w" cx="-306" r="10.6"/></g>
<g id="b22" transform="rotate(-63.4)"><text class="f" x="-191">EkARF9.1</text><circle class="k" cx="-306" r="10.6"/></g>
<g id="b23" transform="rotate(-58.1)"><text class="f" x="-191">EkARF9.2</text><circle class="k" cx="-306" r="10.6"/></g>
<g id="b24" transform="rotate(-52.8)"><text class="f" x="-191">AtARF11</text><circle class="w" cx="-306" r="10.6"/></g>
<g id="b25" transform="rotate(-47.5)"><text class="f" x="-191">AtARF18</text><circle class="w" cx="-306" r="10.6"/></g>
<g id="b26" transform="rotate(-42.2)"><text class="f" x="-191">EkARF11/18.1</text><circle class="k" cx="-306" r="10.6"/></g>
<g id="b27" transform="rotate(-36.9)"><text class="f" x="-191">EkARF11/18.2</text><circle class="k" cx="-306" r="10.6"/></g>
<g id="b28" transform="rotate(-31.6)"><text class="f" x="-191">AtARF1</text><circle class="w" cx="-306" r="10.6"/></g>
<g id="b29" transform="rotate(-26.3)"><text class="f" x="-191">EkARF1.1</text><circle class="k" cx="-306" r="10.6"/></g>
<g id="b30" transform="rotate(-21)"><text class="f" x="-191">EkARF1.2</text><circle class="k" cx="-306" r="10.6"/></g>
<g id="b31" transform="rotate(-15.7)"><text class="f" x="-191">AtrARF1</text><circle class="g" cx="-306" r="10.6"/></g>
<g id="b32" transform="rotate(-10.4)"><text class="f" x="-191">AtARF2</text><circle class="w" cx="-306" r="10.6"/></g>
<g id="b33" transform="rotate(-5.1)"><text class="f" x="-191">EkARF2.1</text><circle class="k" cx="-306" r="10.6"/></g>
<g id="b34" transform="rotate(0.2)"><text class="f" x="-191">EkARF2.2</text><circle class="k" cx="-306" r="10.6"/></g>
<g id="b35" transform="rotate(5.5)"><text class="f" x="-191">AtrARF2.1</text><circle class="g" cx="-306" r="10.6"/></g>
<g id="b36" transform="rotate(10.8)"><text class="f" x="-191">EkARF2.3</text><circle class="k" cx="-306" r="10.6"/></g>
<g id="b37" transform="rotate(16.1)"><text class="f" x="-191">AtrARF2.2</text><circle class="g" cx="-306" r="10.6"/></g>
<g id="b38" transform="rotate(21.4)"><text class="f" x="-191">AtARF3</text><circle class="w" cx="-306" r="10.6"/></g>
<g id="b39" transform="rotate(26.7)"><text class="f" x="-191">EkARF3</text><circle class="k" cx="-306" r="10.6"/></g>
<g id="b40" transform="rotate(32)"><text class="f" x="-191">AtrARF3</text><circle class="g" cx="-306" r="10.6"/></g>
<g id="b41" transform="rotate(37.3)"><text class="f" x="-191">AtARF4</text><circle class="w" cx="-306" r="10.6"/></g>
<g id="b42" transform="rotate(42.6)"><text class="f" x="-191">EkARF4.1</text><circle class="k" cx="-306" r="10.6"/></g>
<g id="b43" transform="rotate(47.9)"><text class="f" x="-191">EkARF4.2</text><circle class="k" cx="-306" r="10.6"/></g>
<g id="b44" transform="rotate(53.2)"><text class="f" x="-191">AtrARF4</text><circle class="g" cx="-306" r="10.6"/></g>
<g id="b45" transform="rotate(58.5)"><text class="f" x="-191">AtARF17</text><circle class="w" cx="-306" r="10.6"/></g>
<g id="b46" transform="rotate(63.8)"><text class="f" x="-191">EkARF17.1</text><circle class="k" cx="-306" r="10.6"/></g>
<g id="b47" transform="rotate(69.1)"><text class="f" x="-191">EkARF17.2</text><circle class="k" cx="-306" r="10.6"/></g>
<g id="b48" transform="rotate(74.4)"><text class="f" x="-191">AtrARF17.1</text><circle class="g" cx="-306" r="10.6"/></g>
<g id="b49" transform="rotate(79.7)"><text class="f" x="-191">AtrARF17.2</text><circle class="g" cx="-306" r="10.6"/></g>
<g id="b50" transform="rotate(85)"><text class="f" x="-191">AtARF10</text><circle class="w" cx="-306" r="10.6"/></g>
<g id="b51" transform="rotate(270.3)"><text x="191">EkARF10.1</text><circle class="k" cx="306" r="10.6"/></g>
<g id="b52" transform="rotate(275.6)"><text x="191">EkARF10.2</text><circle class="k" cx="306" r="10.6"/></g>
<g id="b53" transform="rotate(280.9)"><text x="191">AtARF16</text><circle class="w" cx="306" r="10.6"/></g>
<g id="b54" transform="rotate(286.2)"><text x="191">EkARF16.1</text><circle class="k" cx="306" r="10.6"/></g>
<g id="b55" transform="rotate(291.5)"><text x="191">EkARF16.2</text><circle class="k" cx="306" r="10.6"/></g>
<g id="b56" transform="rotate(296.8)"><text x="191">EkARF16.3</text><circle class="k" cx="306" r="10.6"/></g>
<g id="b57" transform="rotate(302.1)"><text x="191">AtrARF10.1</text><circle class="g" cx="306" r="10.6"/></g>
<g id="b58" transform="rotate(307.4)"><text x="191">AtrARF10.2</text><circle class="g" cx="306" r="10.6"/></g>
<g id="b59" transform="rotate(312.7)"><text x="191">EkARF24.1</text><circle class="k" cx="306" r="10.6"/></g>
<g id="b60" transform="rotate(318)"><text x="191">EkARF24.2</text><circle class="k" cx="306" r="10.6"/></g>
<g id="b61" transform="rotate(323.3)"><text x="191">AtrARF24</text><circle class="g" cx="306" r="10.6"/></g>
<g id="b62" transform="rotate(328.6)"><text x="191">AtrARF26</text><circle class="g" cx="306" r="10.6"/></g>
<g id="b63" transform="rotate(333.9)"><text x="191">EkARF25.1</text><circle class="k" cx="306" r="10.6"/></g>
<g id="b64" transform="rotate(339.2)"><text x="191">EkARF25.2</text><circle class="k" cx="306" r="10.6"/></g>
<g id="b65" transform="rotate(344.5)"><text x="191">AtARF7</text><circle class="w" cx="306" r="10.6"/></g>
</g>
</g>
</svg>
